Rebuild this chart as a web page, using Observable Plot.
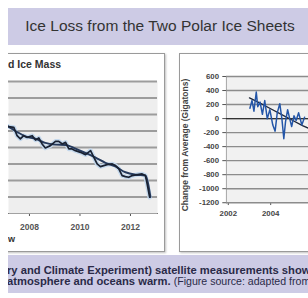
<!DOCTYPE html>
<html><head><meta charset="utf-8">
<script src="https://cdn.jsdelivr.net/npm/d3@7"></script>
<script src="https://cdn.jsdelivr.net/npm/@observablehq/plot@0.6"></script>
<style>
html,body{margin:0;padding:0;background:#fff;}
body{width:308px;height:298px;overflow:hidden;position:relative;font-family:"Liberation Sans",Arial,sans-serif;}
#wrap{position:absolute;left:8px;top:0;width:300px;height:298px;overflow:hidden;}
.band{position:absolute;left:0;width:300px;background:#cdcbe5;}
.panel{position:absolute;border:1px solid #9a9a9a;background:#fff;box-sizing:border-box;box-shadow:1px 1px 2px rgba(0,0,0,0.25);}
.abs{position:absolute;white-space:nowrap;}
.plotbox{position:absolute;}
</style></head><body>
<div id="wrap">
  <div class="band" style="top:8px;height:37px"></div>
  <div class="abs" style="left:0;width:304px;text-align:center;top:18px;font-size:15.5px;line-height:1;color:#333">Ice Loss from the Two Polar Ice Sheets</div>

  <div class="panel" style="left:-50px;top:53px;width:207px;height:199px"></div>
  <div class="abs" style="left:-200px;width:200px;text-align:right;top:59px;font-size:10.5px;line-height:1;font-weight:bold;color:#333">Greenlan</div>
  <div class="abs" style="left:0px;top:59px;font-size:10.5px;line-height:1;font-weight:bold;color:#333">d Ice Mass</div>
  <div class="abs" style="left:0px;top:235px;font-size:9px;line-height:1;font-weight:bold;color:#333">w</div>
  <div class="plotbox" id="left" style="left:-8px;top:53px"></div>

  <div class="panel" style="left:171px;top:53px;width:150px;height:199px"></div>
  <div class="abs" style="left:102px;top:140px;width:150px;text-align:center;font-size:8.5px;line-height:10px;font-weight:bold;color:#444;transform:rotate(-90deg)">Change from Average (Gigatons)</div>
  <div class="plotbox" id="right" style="left:171px;top:53px"></div>

  <div class="band" style="top:255px;height:38px"></div>
  <div class="abs" style="left:-1px;top:265px;font-size:11.2px;line-height:10.5px;font-weight:bold;color:#2a2a48">ry and Climate Experiment) satellite measurements show</div>
  <div class="abs" style="left:-1px;top:275.5px;font-size:11.2px;line-height:10.5px;color:#2a2a48"><b>atmosphere and oceans warm.</b> <span style="font-size:10.6px">(Figure source: adapted from</span></div>
</div>
<script>
// Left panel: Greenland ice mass (Gt, relative)
const greenlandYears = [2007.05, 2007.18, 2007.38, 2007.51, 2007.64, 2007.77, 2007.91,
  2008.11, 2008.24, 2008.37, 2008.50, 2008.63, 2008.83,
  2009.03, 2009.16, 2009.30, 2009.43, 2009.56, 2009.69, 2009.82,
  2010.02, 2010.22, 2010.42, 2010.55, 2010.68, 2010.81, 2010.94,
  2011.07, 2011.28, 2011.41, 2011.54, 2011.67, 2011.80, 2011.93,
  2012.07, 2012.27, 2012.46, 2012.59, 2012.66, 2012.76];
const greenlandMass = [130, 104, 87, -114, -193, -114, -155,
  -114, -218, -169, -314, -411, -355,
  -251, -251, -314, -276, -435, -435, -476,
  -517, -573, -476, -638, -798, -863, -839,
  -815, -798, -839, -919, -1081, -1105, -1122,
  -1081, -1057, -1040, -1081, -1282, -1606];
const greenlandTrendYears = [2007.05, 2007.5, 2007.84, 2008.25, 2008.63, 2009.0, 2009.43, 2009.8, 2010.22, 2010.6, 2011.01, 2011.4, 2011.80, 2012.2, 2012.59, 2012.67, 2012.79];
const greenlandTrend = [150, -20, -130, -190, -290, -330, -340, -420, -530, -640, -770, -860, -1000, -1060, -1080, -1200, -1600];
const greenlandGrid = [1200, 800, 400, 0, -400, -800, -1200, -1600];
const greenlandTicks = [2008, 2010, 2012];

// Right panel: change from average (Gigatons)
const antYears = [2003.02, 2003.12, 2003.21, 2003.32, 2003.39, 2003.50, 2003.61, 2003.72, 2003.84, 2003.96,
  2004.10, 2004.21, 2004.31, 2004.43, 2004.53, 2004.62, 2004.70, 2004.80, 2004.90, 2004.99,
  2005.10, 2005.20, 2005.32, 2005.47, 2005.60];
const antMass = [148, 257, 105, 379, 170, 235, 61, 257, -4, 127,
  -92, -179, 82, 213, -4, -288, -48, 127, -4, -113,
  39, -26, 82, -92, 20];
const antTrendYears = [2003.0, 2003.5, 2004.0, 2004.5, 2005.0, 2005.5, 2005.8];
const antTrend = [295, 220, 140, 60, -20, -100, -140];
const antYTicks = [600, 400, 200, 0, -200, -400, -600, -800, -1000, -1200];
const antXTicks = [2002, 2004];

const font = "Liberation Sans, Arial, sans-serif";
const gData = greenlandYears.map((t, i) => ({t, v: greenlandMass[i]}));
const gTrend = greenlandTrendYears.map((t, i) => ({t, v: greenlandTrend[i]}));
const aData = antYears.map((t, i) => ({t, v: antMass[i]}));
const aTrend = antTrendYears.map((t, i) => ({t, v: antTrend[i]}));

const left = Plot.plot({
  width: 164, height: 198,
  marginLeft: 8, marginRight: 7, marginTop: 28, marginBottom: 38,
  x: {domain: [2007.17, 2013.07], ticks: greenlandTicks, tickFormat: d => String(d), tickSize: 3, tickPadding: 7, label: null, line: true},
  y: {domain: [-2000, 1200], axis: null},
  style: {background: "transparent", fontFamily: font, fontSize: "8.5px", fontWeight: "bold", color: "#555", overflow: "visible"},
  marks: [
    Plot.frame({fill: "#eeeeee", stroke: "none"}),
    Plot.ruleY(greenlandGrid, {stroke: "#9c9c9c", strokeWidth: 2}),
    Plot.line(gData, {x: "t", y: "v", stroke: "#c4d8ec", strokeWidth: 4.5}),
    Plot.line(gTrend, {x: "t", y: "v", stroke: "#263a5c", strokeWidth: 1.9, curve: "monotone-x"}),
    Plot.line(gData, {x: "t", y: "v", stroke: "#1a2232", strokeWidth: 1.7})
  ]
});
document.getElementById("left").appendChild(left);

const right = Plot.plot({
  width: 140, height: 198,
  marginLeft: 51, marginRight: 0, marginTop: 25, marginBottom: 36,
  x: {domain: [2001.913, 2005.783], ticks: antXTicks, tickFormat: d => String(d), tickSize: 3, tickPadding: 5, label: null},
  y: {domain: [-1200, 600], ticks: antYTicks, tickFormat: d => String(d), tickSize: 4, tickPadding: 4, label: null, line: true},
  style: {background: "transparent", fontFamily: font, fontSize: "8.5px", fontWeight: "bold", color: "#444", overflow: "visible"},
  marks: [
    Plot.frame({fill: "#f1f1f1", stroke: "none"}),
    Plot.ruleY(antYTicks, {stroke: "#8c8c8c", strokeWidth: 1.5}),
    Plot.ruleY([0], {stroke: "#333", strokeWidth: 1.5}),
    Plot.line(aTrend, {x: "t", y: "v", stroke: "#1d2638", strokeWidth: 1.4}),
    Plot.line(aData, {x: "t", y: "v", stroke: "#2456a8", strokeWidth: 1.6})
  ]
});
document.getElementById("right").appendChild(right);
</script>
</body></html>
